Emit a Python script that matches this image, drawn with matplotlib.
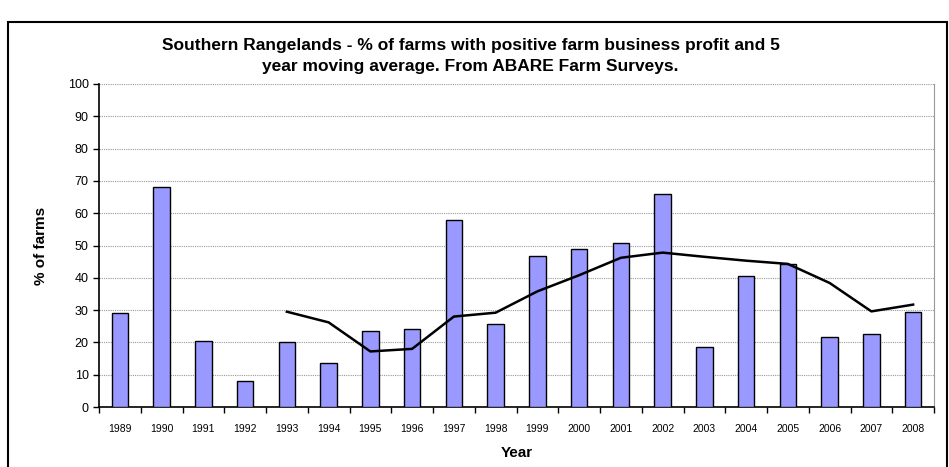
import matplotlib.pyplot as plt
from matplotlib.patches import Rectangle

plt.rcParams['font.family'] = ['Liberation Sans', 'DejaVu Sans']

years = list(range(1989, 2009))
pct_positive = [29.0, 68.2, 20.4, 8.0, 20.0, 13.6, 23.4, 24.3, 57.9, 25.6,
                46.9, 49.0, 50.7, 66.0, 18.7, 40.5, 44.3, 21.7, 22.6, 29.3]
# 5 year moving average, starts at 1993
ma_years = list(range(1993, 2009))
ma_values = [29.5, 26.2, 17.2, 18.0, 28.0, 29.2, 35.8, 40.8, 46.2, 47.8,
             46.5, 45.3, 44.3, 38.4, 29.6, 31.7]

fig = plt.figure(figsize=(9.49, 4.67), dpi=100)
ax = fig.add_axes([99 / 949, 1 - 407 / 467, (934 - 99) / 949, (407 - 84) / 467])

xpos = list(range(len(years)))
ax.bar(xpos, pct_positive, width=0.4, color='#9999FF', edgecolor='black', linewidth=1.0, zorder=3)
ma_x = [years.index(y) for y in ma_years]
ax.plot(ma_x, ma_values, color='black', linewidth=1.8, zorder=4)

ax.set_xlim(-0.5, len(years) - 0.5)
ax.set_ylim(0, 100)
ax.set_yticks(range(0, 101, 10))
ax.tick_params(axis='y', labelsize=9, length=4, direction='out', width=1)
ax.set_xticks(xpos)
ax.set_xticklabels([str(y) for y in years], fontsize=7.5)
ax.tick_params(axis='x', length=0, pad=12)
ax.set_xticks([i - 0.5 for i in range(len(years) + 1)], minor=True)
ax.tick_params(axis='x', which='minor', length=4, width=1, direction='out')

ax.grid(axis='y', color='#999999', linestyle=(0, (1, 1)), linewidth=0.8, zorder=0)
ax.spines['top'].set_visible(False)
ax.spines['right'].set_color('#999999')
ax.spines['left'].set_linewidth(1.2)
ax.spines['bottom'].set_linewidth(1.2)

ax.set_ylabel('% of farms', fontsize=11, fontweight='bold', labelpad=14)
ax.set_xlabel('Year', fontsize=11, fontweight='bold', labelpad=9)

fig.text(0.496, 1 - 45 / 467, 'Southern Rangelands - % of farms with positive farm business profit and 5',
         ha='center', va='center', fontsize=12.5, fontweight='bold')
fig.text(0.496, 1 - 66 / 467, 'year moving average. From ABARE Farm Surveys.',
         ha='center', va='center', fontsize=12.5, fontweight='bold')

# outer chart border
fig.patches.append(Rectangle((8 / 949, -0.05), (947 - 8) / 949, 1 - 22 / 467 + 0.05,
                             transform=fig.transFigure, fill=False, edgecolor='black',
                             linewidth=1.5))

fig.savefig('out.png', dpi=100)
